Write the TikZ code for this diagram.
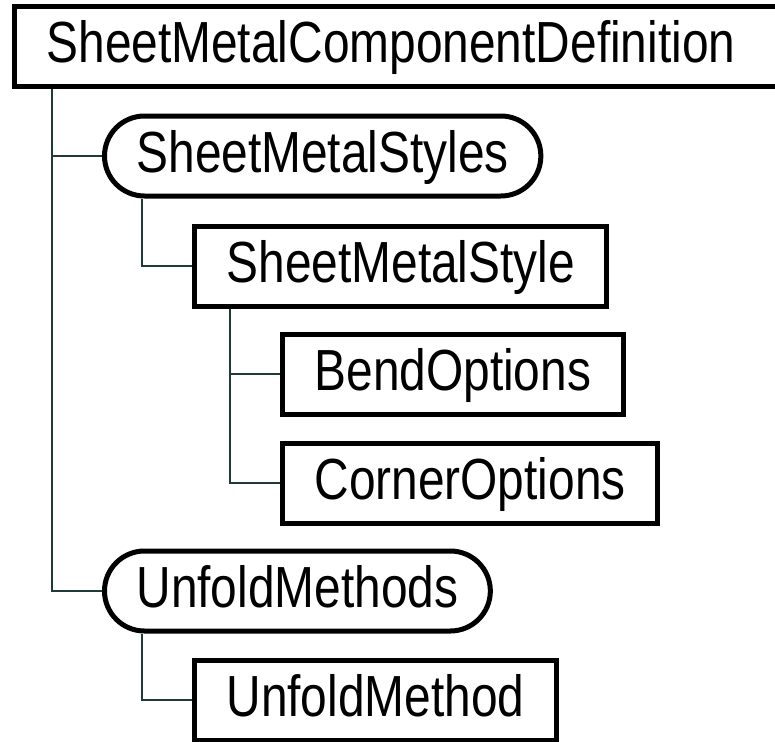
\documentclass[tikz,border=0pt]{standalone}
\usepackage{fontspec}
\setmainfont{Liberation Sans}[FakeStretch=0.825]
\usetikzlibrary{calc}
\definecolor{LinkTeal}{HTML}{203A3A}

\begin{document}
\begin{tikzpicture}[x=1pt, y=-1pt,
  elem/.style={draw=black, line width=5pt, minimum height=80pt, inner xsep=32pt, text height=42pt, text depth=9pt, anchor=west, font=\fontsize{58}{62}\selectfont},
  group/.style={elem, rounded corners=40pt},
  link/.style={LinkTeal, line width=2pt}
]
\useasboundingbox (0,0) rectangle (775,741);
\node[elem, minimum width=775pt, align=left, text width=711pt] (def) at (12,46.5) {SheetMetalComponentDefinition};
\node[group] (styles) at (102,156) {SheetMetalStyles};
\node[elem] (style) at (192,266) {SheetMetalStyle};
\node[elem] (bend) at (280,374) {BendOptions};
\node[elem] (corner) at (280,483) {CornerOptions};
\node[group] (methods) at (102,591) {UnfoldMethods};
\node[elem] (method) at (192,700) {UnfoldMethod};
% tree links
\draw[link] ($(def.south west)+(40,0)$) |- (styles.west);
\draw[link] ($(def.south west)+(40,0)$) |- (methods.west);
\draw[link] ($(styles.south west)+(40,0)$) |- (style.west);
\draw[link] ($(style.south west)+(38,0)$) |- (bend.west);
\draw[link] ($(style.south west)+(38,0)$) |- (corner.west);
\draw[link] ($(methods.south west)+(40,0)$) |- (method.west);
\end{tikzpicture}
\end{document}
